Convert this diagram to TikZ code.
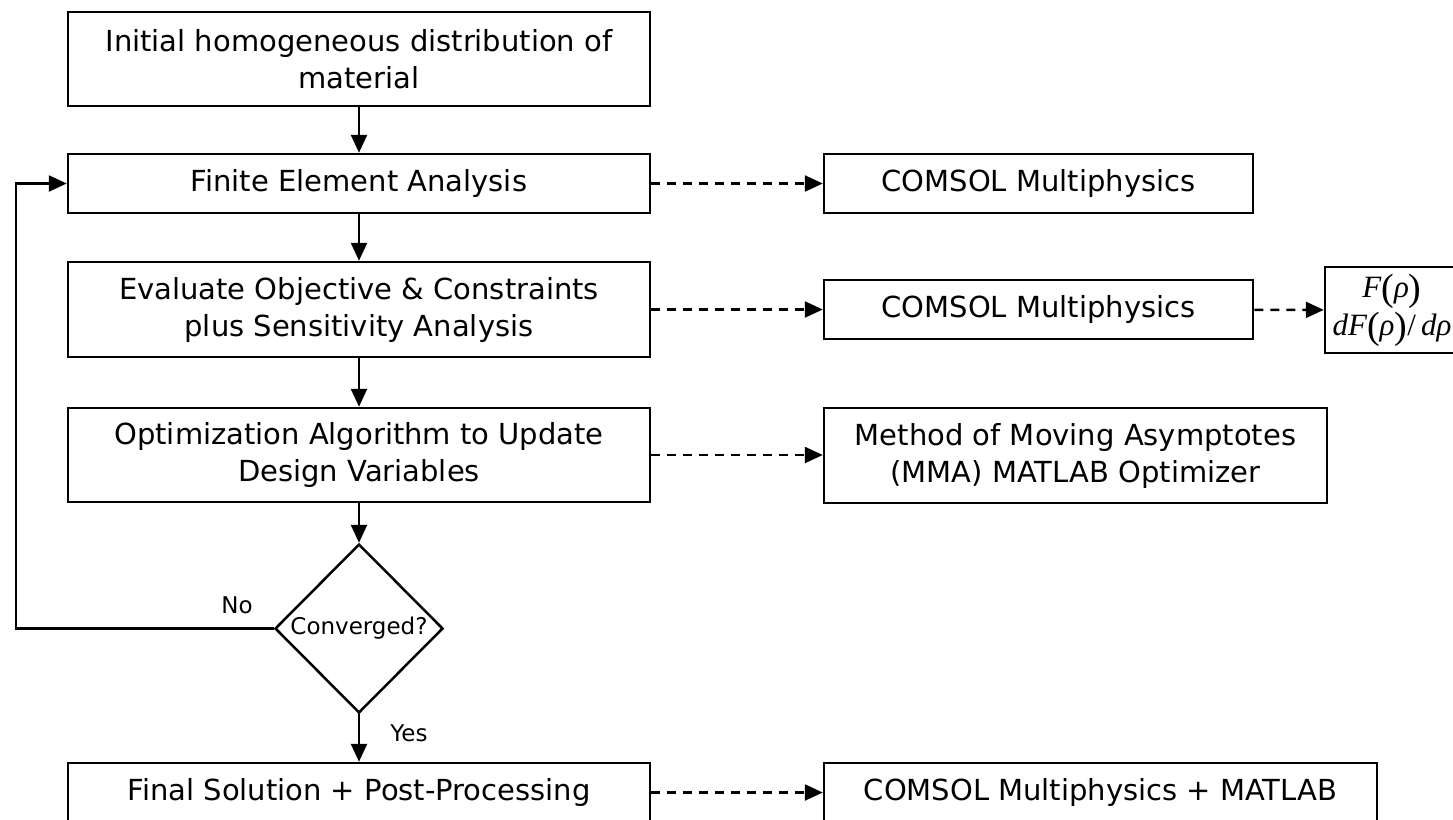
\documentclass[tikz,border=0pt]{standalone}
\usepackage{fontspec}
\setmainfont{DejaVu Sans}
\newfontfamily\serifit{Liberation Serif}
\usepackage{tikz}
\usetikzlibrary{shapes.geometric,arrows.meta}

% tall upright parenthesis for the gradient box
\newcommand\tallpar[1]{{\upshape\fontsize{38}{38}\selectfont\raisebox{-0.06em}{#1}}}

\tikzset{
  box/.style={draw,line width=2.5pt,align=center,inner sep=0pt,
    font=\fontsize{29}{37}\selectfont},
  arr/.style={line width=2.5pt,-{Triangle[length=18pt,width=16pt]}},
  darr/.style={arr,dash pattern=on 9pt off 7pt},
  lbl/.style={font=\fontsize{23}{27}\selectfont},
}

\begin{document}
\begin{tikzpicture}[x=1pt,y=-1pt]
  \clip (0,0) rectangle (1453,819);
  % main column
  \node[box,minimum width=582pt,minimum height=94pt] (init) at (359,59)
    {Initial homogeneous distribution of\\material};
  \node[box,minimum width=582pt,minimum height=59pt] (fea) at (359,183.5)
    {Finite Element Analysis};
  \node[box,minimum width=582pt,minimum height=95pt] (eval) at (359,309.5)
    {Evaluate Objective \& Constraints\\plus Sensitivity Analysis};
  \node[box,minimum width=582pt,minimum height=94pt] (opt) at (359,455)
    {Optimization Algorithm to Update\\Design Variables};
  \node[draw,line width=2.5pt,diamond,inner sep=0pt,minimum width=168pt,
    minimum height=169pt,lbl] (conv) at (359,628.5) {Converged?};
  \node[box,minimum width=582pt,minimum height=59pt] (final) at (359,792.5)
    {Final Solution + Post-Processing};
  % tools
  \node[box,minimum width=429pt,minimum height=59pt] (comsolA) at (1038.5,183.5)
    {COMSOL Multiphysics};
  \node[box,minimum width=429pt,minimum height=59pt] (comsolB) at (1038.5,309.5)
    {COMSOL Multiphysics};
  \node[box,minimum width=503pt,minimum height=95pt] (mma) at (1075.5,455.5)
    {Method of Moving Asymptotes\\(MMA) MATLAB Optimizer};
  \node[box,minimum width=553pt,minimum height=59pt] (post) at (1100.5,792.5)
    {COMSOL Multiphysics + MATLAB};
  \node[box,minimum width=134pt,minimum height=86pt,
    font=\serifit\itshape\fontsize{31}{38}\selectfont] (grad) at (1392,310)
    {F\tallpar{(}ρ\tallpar{)}\\dF\tallpar{(}ρ\tallpar{)}\upshape/\,\itshape dρ};
  \coordinate (back) at (16,628.5);

  \draw[arr] (init) -- (fea);
  \draw[arr] (fea) -- (eval);
  \draw[arr] (eval) -- (opt);
  \draw[arr] (opt) -- (conv);
  \draw[arr] (conv) -- (final);
  \draw[arr] (conv.west) -- (back) |- (fea.west);
  \node[lbl] (no) at (237,605) {No};
  \node[lbl] (yes) at (409,733) {Yes};

  \draw[darr] (fea) -- (comsolA);
  \draw[darr] (eval) -- (comsolB);
  \draw[darr] (comsolB) -- (grad);
  \draw[darr] (opt) -- (opt -| mma.west);
  \draw[darr] (final) -- (post);
\end{tikzpicture}
\end{document}
